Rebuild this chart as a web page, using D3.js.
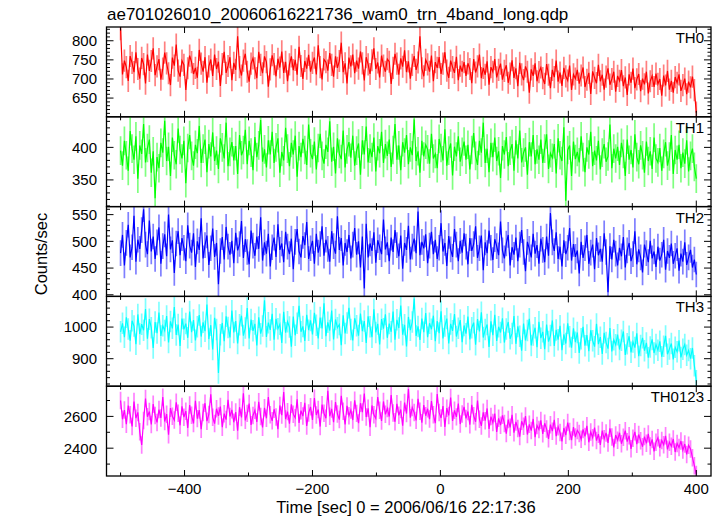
<!DOCTYPE html>
<html><head><meta charset="utf-8">
<script src="https://cdn.jsdelivr.net/npm/d3@7"></script>
<style>
body{margin:0;background:#fff}
text{font-family:"Liberation Sans",Arial,Helvetica,sans-serif;fill:#000}
</style>
</head><body>
<svg id="chart" width="722" height="516"></svg>
<script>
const title = "ae701026010_20060616221736_wam0_trn_4band_long.qdp";
const xLabel = "Time [sec] 0 = 2006/06/16 22:17:36";
const yLabel = "Counts/sec";
const binStart = -500, binWidth = 3;

const th0 = [
830,712,748,731,695,760,742,718,770,726,701,755,739,688,764,721,747,780,710,733,
752,698,727,769,741,715,684,756,735,790,722,706,748,737,671,728,761,744,713,729,
703,776,740,719,757,690,733,751,708,764,726,745,682,739,771,716,734,757,697,742,
724,812,731,709,748,766,719,693,740,754,728,702,771,737,715,759,744,680,725,762,
739,707,753,730,772,716,745,694,738,759,723,750,711,784,734,700,747,727,763,719,
742,756,712,788,731,699,751,744,722,768,737,706,759,729,747,795,718,741,688,756,
733,764,715,748,727,772,741,696,757,738,713,749,780,726,743,704,761,735,719,752,
745,687,729,766,740,711,754,732,775,718,746,701,737,760,724,743,812,728,707,750,
738,719,761,694,744,729,757,713,740,770,722,703,748,731,716,758,697,735,719,744,
708,741,726,689,752,717,733,764,702,729,711,746,685,731,719,752,704,724,740,698,
721,736,690,714,749,703,728,681,742,712,697,733,719,664,725,708,741,694,718,730,
702,687,739,711,676,724,705,748,693,717,682,729,707,696,735,671,712,701,724,688,
709,730,679,698,716,661,720,703,689,737,694,711,672,706,728,685,700,719,667,708,
695,723,681,704,658,712,690,727,676,699,713,668,701,686,719,662,694,708,679,714,
687,700,656,709,683,721,672,695,664,705,690,712,669,684,701,660,693,678,706,671,
612];

const th1 = [
395,372,410,388,364,425,398,381,417,352,403,390,436,377,399,412,361,394,322,385,
368,407,392,441,379,401,356,415,388,374,429,396,383,410,345,399,419,387,372,404,
391,433,376,398,412,362,405,386,423,379,395,367,414,400,383,438,371,393,408,380,
402,359,419,388,396,427,374,410,392,365,416,385,403,442,378,397,369,411,389,424,
376,400,414,361,393,380,430,398,371,407,389,418,355,402,385,413,396,373,435,391,
382,409,366,399,421,387,375,404,393,440,378,401,360,414,390,382,426,369,397,408,
384,418,372,395,406,358,411,389,432,377,398,385,415,363,402,391,424,376,405,387,
412,370,396,436,381,403,365,408,392,419,374,400,388,443,379,394,361,410,386,404,
397,375,421,383,390,368,413,399,380,428,372,395,406,357,401,386,417,378,393,409,
381,404,366,396,422,387,373,410,392,438,376,398,362,407,385,415,379,394,353,402,
389,416,371,395,405,364,411,383,426,377,392,400,358,408,386,419,374,397,381,412,
376,398,420,367,391,384,405,360,414,388,379,431,318,396,403,356,409,382,393,377,
417,385,362,400,389,424,371,395,380,410,366,392,405,378,386,435,368,398,383,401,
373,407,390,356,412,381,396,369,420,385,374,403,388,361,409,379,394,367,415,383,
377,399,364,390,408,372,386,419,359,396,381,404,368,392,375,411,363,387,398,370,
352];

const th2 = [
478,512,455,497,531,470,489,548,462,503,486,521,560,494,476,539,481,509,467,498,
526,458,491,513,472,550,485,502,441,496,519,474,506,488,463,530,492,479,515,452,
500,484,543,468,493,511,456,487,524,471,497,420,482,508,466,527,490,475,501,459,
516,483,495,538,469,504,480,457,520,492,473,509,486,545,464,498,477,514,453,489,
507,471,532,484,496,461,518,490,476,505,448,499,523,481,470,510,493,536,467,487,
501,458,514,479,495,528,473,503,486,462,519,491,477,547,484,506,455,497,480,512,
468,494,525,475,500,451,509,412,533,470,496,482,517,460,502,489,476,541,485,498,
463,507,480,521,493,472,511,449,497,484,529,466,490,505,478,556,474,499,487,513,
459,492,518,476,503,467,488,534,481,497,454,510,485,471,523,494,463,501,479,515,
490,457,506,482,495,528,469,487,511,446,498,478,520,488,465,504,491,474,537,483,
468,496,512,455,489,475,507,463,494,521,480,444,499,486,470,514,477,493,458,505,
484,461,509,473,553,498,482,517,467,490,453,502,476,488,525,464,495,471,483,440,
499,469,487,512,458,479,494,448,506,474,486,462,515,480,405,491,466,503,477,455,
488,472,508,451,483,497,463,476,519,457,485,470,442,494,478,461,501,468,481,452,
490,464,475,503,447,482,469,496,458,473,487,445,477,462,498,456,470,484,451,466,
438];

const th3 = [
985,1012,968,1031,994,957,1020,1003,946,1040,978,1009,990,1057,963,1025,998,934,1016,981,
1046,972,1004,989,1035,951,1018,996,1063,975,1008,940,1027,993,1011,966,1049,984,1022,958,
1001,1038,970,1015,987,1071,962,1006,929,1029,992,855,976,1013,955,1034,999,967,1052,983,
1019,948,1007,1036,973,997,1060,964,1024,988,1010,942,1031,979,1003,1085,969,1014,991,1042,
960,1026,995,1009,950,1048,982,1017,1000,938,1033,974,1012,1067,985,1002,956,1039,990,1021,
977,1045,1006,964,1030,996,1075,971,1015,989,1052,961,1024,998,1008,943,1037,980,1013,1061,
992,958,1028,1004,973,1043,987,1019,950,1034,1001,968,1056,983,1010,945,1025,995,1040,966,
1011,985,1049,960,1023,997,1068,976,1007,939,1032,990,1016,1090,972,1002,959,1027,984,1044,
968,1012,993,1036,955,1019,981,1050,964,1003,1027,948,1010,988,1041,970,996,1022,952,1005,
979,1033,961,998,1014,944,1025,986,1047,967,992,1008,937,1018,974,1039,956,1001,983,1028,
951,994,1016,963,980,1035,947,1002,971,925,1011,958,989,1026,942,975,998,936,1017,965,
985,930,1008,954,973,1021,940,991,960,1004,927,977,948,1012,969,935,996,952,983,918,
963,1001,941,975,924,990,957,938,1010,946,968,915,982,951,932,997,923,960,944,976,
929,958,986,912,947,971,920,953,935,980,908,942,966,925,950,903,937,961,918,945,
927,955,906,939,972,914,931,948,898,936,922,957,904,930,945,911,926,900,934,878,
830];

const th0123 = [
2700,2582,2640,2551,2668,2610,2537,2694,2589,2625,2503,2420,2574,2712,2598,2631,2549,2677,2606,2562,
2643,2590,2721,2568,2614,2485,2652,2601,2577,2689,2620,2544,2663,2595,2633,2528,2671,2607,2556,2698,
2586,2640,2519,2625,2683,2570,2612,2739,2594,2555,2648,2603,2662,2532,2617,2580,2705,2599,2641,2563,
2627,2510,2658,2593,2746,2575,2619,2681,2547,2606,2638,2565,2692,2600,2531,2654,2588,2722,2611,2572,
2645,2596,2520,2669,2608,2753,2583,2630,2554,2676,2614,2591,2707,2559,2636,2602,2685,2540,2622,2660,
2578,2715,2609,2643,2536,2674,2620,2588,2761,2601,2647,2563,2690,2615,2580,2729,2632,2549,2666,2604,
2640,2577,2701,2619,2558,2683,2627,2744,2596,2651,2532,2669,2610,2587,2722,2638,2571,2694,2613,2650,
2599,2734,2622,2566,2679,2607,2643,2541,2687,2618,2772,2592,2656,2624,2575,2710,2633,2560,2671,2604,
2648,2583,2696,2611,2557,2740,2625,2590,2665,2534,2652,2606,2719,2571,2638,2597,2681,2552,2615,2660,
2587,2631,2548,2673,2604,2566,2699,2582,2540,2626,2573,2650,2521,2599,2561,2618,2503,2588,2545,2607,
2556,2492,2580,2531,2610,2497,2565,2524,2473,2569,2538,2602,2486,2550,2511,2584,2469,2543,2518,2575,
2490,2557,2521,2459,2548,2507,2578,2476,2535,2498,2443,2527,2482,2561,2505,2451,2533,2470,2512,2493,
2456,2518,2474,2541,2437,2502,2466,2529,2448,2488,2420,2511,2459,2496,2433,2525,2471,2405,2483,2450,
2497,2428,2469,2510,2441,2478,2396,2462,2503,2425,2486,2447,2409,2473,2431,2490,2414,2455,2380,2438,
2466,2402,2449,2421,2478,2393,2437,2412,2458,2376,2430,2404,2445,2388,2426,2361,2418,2395,2340,2290,
2235];

const panelNames = ["TH0", "TH1", "TH2", "TH3", "TH0123"];
const panelSeries = [th0, th1, th2, th3, th0123];
const panelColors = ["#ff0000", "#00ff00", "#0000ff", "#00ffff", "#ff00ff"];
const panelErrors = [29, 22, 24, 34, 55];
const panelDomains = [[601, 836], [309, 447], [397, 565], [813, 1097], [2225, 2790]];
const panelMajorTicks = [[650, 700, 750, 800], [350, 400], [400, 450, 500, 550], [900, 1000], [2400, 2600]];
const panelMinorStep = [10, 10, 10, 20, 100];
const xDomain = [-522, 423];
const xMajorTicks = [-400, -200, 0, 200, 400];
const xMinorTicks = [-500, -300, -100, 100, 300];

// layout
const pLeft = 106.5, pRight = 711, pTop = 27, pBottom = 476;
const nP = panelNames.length;
const ph = (pBottom - pTop) / nP;

const svg = d3.select("#chart");
const x = d3.scaleLinear().domain(xDomain).range([pLeft, pRight]);

svg.append("text").attr("x", 107).attr("y", 20).attr("font-size", 17).text(title);

const defs = svg.append("defs");

panelNames.forEach((name, p) => {
  const y0 = pTop + p * ph, y1 = y0 + ph;
  const y = d3.scaleLinear().domain(panelDomains[p]).range([y1, y0]);
  const g = svg.append("g");
  const clipId = "clip" + p;
  defs.append("clipPath").attr("id", clipId).append("rect")
    .attr("x", pLeft).attr("y", y0).attr("width", pRight - pLeft).attr("height", ph);

  const data = panelSeries[p].map((v, i) => ({t: binStart + i * binWidth, v}));
  const err = panelErrors[p];
  const dg = g.append("g").attr("clip-path", `url(#${clipId})`);
  dg.selectAll("line.err").data(data).enter().append("line")
    .attr("x1", d => x(d.t)).attr("x2", d => x(d.t))
    .attr("y1", d => y(d.v - err)).attr("y2", d => y(d.v + err))
    .attr("stroke", panelColors[p]).attr("stroke-opacity", 0.5).attr("stroke-width", 1.7);
  dg.append("path").datum(data)
    .attr("d", d3.line().x(d => x(d.t)).y(d => y(d.v)))
    .attr("fill", "none").attr("stroke", panelColors[p]).attr("stroke-width", 1.2);

  g.append("rect").attr("x", pLeft).attr("y", y0).attr("width", pRight - pLeft).attr("height", ph)
    .attr("fill", "none").attr("stroke", "#000").attr("stroke-width", 1.3);

  const [d0, d1] = panelDomains[p];
  const step = panelMinorStep[p];
  const minor = d3.range(Math.ceil(d0 / step) * step, d1 + 0.001, step)
    .filter(v => !panelMajorTicks[p].includes(v));
  const tg = g.append("g").attr("stroke", "#000").attr("stroke-width", 1);
  minor.forEach(v => {
    tg.append("line").attr("x1", pLeft).attr("x2", pLeft + 3.5).attr("y1", y(v)).attr("y2", y(v));
    tg.append("line").attr("x1", pRight).attr("x2", pRight - 3.5).attr("y1", y(v)).attr("y2", y(v));
  });
  panelMajorTicks[p].forEach(v => {
    tg.append("line").attr("x1", pLeft).attr("x2", pLeft + 7).attr("y1", y(v)).attr("y2", y(v));
    tg.append("line").attr("x1", pRight).attr("x2", pRight - 7).attr("y1", y(v)).attr("y2", y(v));
    g.append("text").attr("x", 97).attr("y", y(v)).attr("dy", "0.36em")
      .attr("text-anchor", "end").attr("font-size", 15).text(v);
  });
  xMinorTicks.forEach(t => {
    tg.append("line").attr("x1", x(t)).attr("x2", x(t)).attr("y1", y1).attr("y2", y1 - 3.5);
    tg.append("line").attr("x1", x(t)).attr("x2", x(t)).attr("y1", y0).attr("y2", y0 + 3.5);
  });
  xMajorTicks.forEach(t => {
    tg.append("line").attr("x1", x(t)).attr("x2", x(t)).attr("y1", y1).attr("y2", y1 - 6);
    tg.append("line").attr("x1", x(t)).attr("x2", x(t)).attr("y1", y0).attr("y2", y0 + 6);
  });

  g.append("text").attr("x", 704).attr("y", y0 + 16).attr("text-anchor", "end")
    .attr("font-size", 15).text(name);
});

const fmt = d3.format("");
xMajorTicks.forEach(t => {
  svg.append("text").attr("x", x(t)).attr("y", 494).attr("text-anchor", "middle")
    .attr("font-size", 15).text(fmt(t));
});
svg.append("text").attr("x", 406).attr("y", 513).attr("text-anchor", "middle")
  .attr("font-size", 16.5).text(xLabel);
svg.append("text").attr("transform", `translate(47,254) rotate(-90)`)
  .attr("text-anchor", "middle").attr("font-size", 16.5).text(yLabel);
</script>
</body></html>
